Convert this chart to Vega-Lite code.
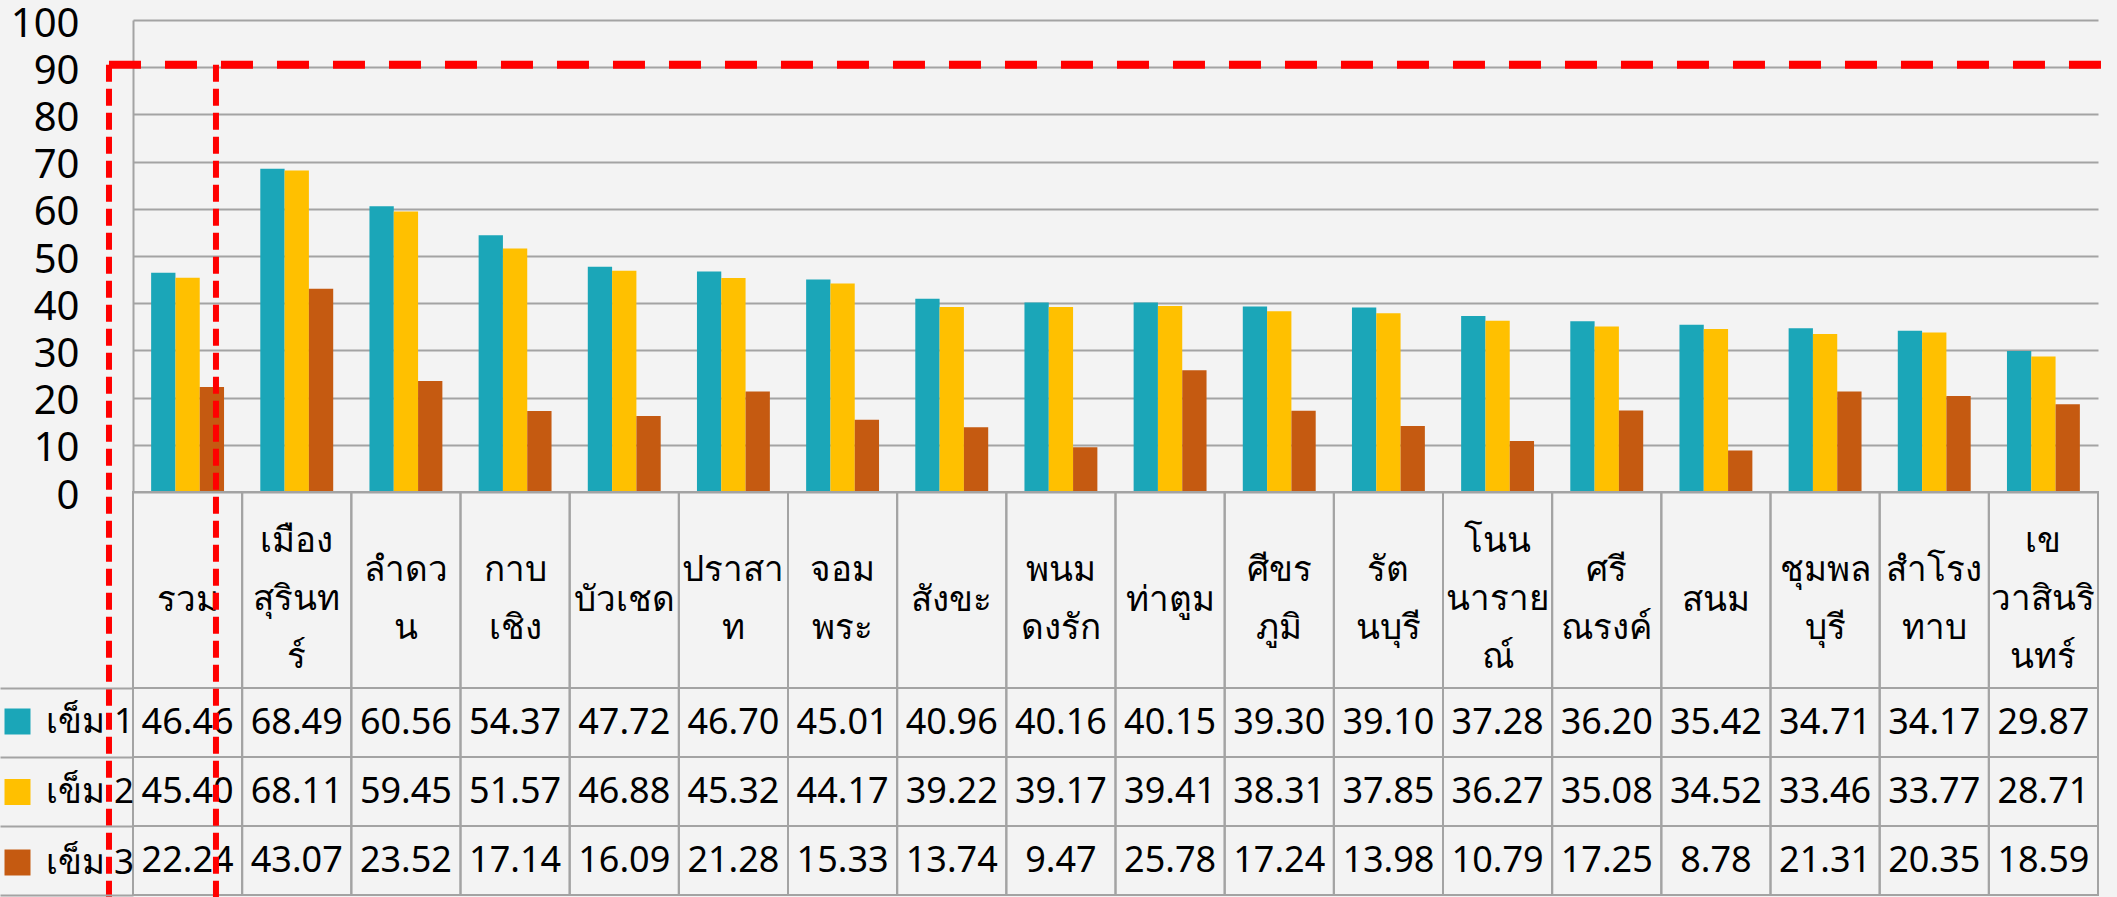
{
  "$schema": "https://vega.github.io/schema/vega-lite/v6.json",
  "autosize": "none",
  "padding": {"left": 133, "top": 0, "right": 19, "bottom": 0},
  "width": 1965,
  "height": 897,
  "background": "#F3F3F3",
  "config": {"view": {"stroke": null}, "font": "Noto Sans", "text": {"font": "Noto Sans"}},
  "datasets": {
    "cats": [
      {"d": "รวม", "label": "รวม"},
      {"d": "เมืองสุรินทร์", "label": "เมือง\nสุรินท\nร์"},
      {"d": "ลำดวน", "label": "ลำดว\nน"},
      {"d": "กาบเชิง", "label": "กาบ\nเชิง"},
      {"d": "บัวเชด", "label": "บัวเชด"},
      {"d": "ปราสาท", "label": "ปราสา\nท"},
      {"d": "จอมพระ", "label": "จอม\nพระ"},
      {"d": "สังขะ", "label": "สังขะ"},
      {"d": "พนมดงรัก", "label": "พนม\nดงรัก"},
      {"d": "ท่าตูม", "label": "ท่าตูม"},
      {"d": "ศีขรภูมิ", "label": "ศีขร\nภูมิ"},
      {"d": "รัตนบุรี", "label": "รัต\nนบุรี"},
      {"d": "โนนนารายณ์", "label": "โนน\nนาราย\nณ์"},
      {"d": "ศรีณรงค์", "label": "ศรี\nณรงค์"},
      {"d": "สนม", "label": "สนม"},
      {"d": "ชุมพลบุรี", "label": "ชุมพล\nบุรี"},
      {"d": "สำโรงทาบ", "label": "สำโรง\nทาบ"},
      {"d": "เขวาสินรินทร์", "label": "เข\nวาสินริ\nนทร์"}
    ],
    "vals": [
      {"d": "รวม", "s": "เข็ม 1", "v": 46.46}, {"d": "รวม", "s": "เข็ม 2", "v": 45.40}, {"d": "รวม", "s": "เข็ม 3", "v": 22.24},
      {"d": "เมืองสุรินทร์", "s": "เข็ม 1", "v": 68.49}, {"d": "เมืองสุรินทร์", "s": "เข็ม 2", "v": 68.11}, {"d": "เมืองสุรินทร์", "s": "เข็ม 3", "v": 43.07},
      {"d": "ลำดวน", "s": "เข็ม 1", "v": 60.56}, {"d": "ลำดวน", "s": "เข็ม 2", "v": 59.45}, {"d": "ลำดวน", "s": "เข็ม 3", "v": 23.52},
      {"d": "กาบเชิง", "s": "เข็ม 1", "v": 54.37}, {"d": "กาบเชิง", "s": "เข็ม 2", "v": 51.57}, {"d": "กาบเชิง", "s": "เข็ม 3", "v": 17.14},
      {"d": "บัวเชด", "s": "เข็ม 1", "v": 47.72}, {"d": "บัวเชด", "s": "เข็ม 2", "v": 46.88}, {"d": "บัวเชด", "s": "เข็ม 3", "v": 16.09},
      {"d": "ปราสาท", "s": "เข็ม 1", "v": 46.70}, {"d": "ปราสาท", "s": "เข็ม 2", "v": 45.32}, {"d": "ปราสาท", "s": "เข็ม 3", "v": 21.28},
      {"d": "จอมพระ", "s": "เข็ม 1", "v": 45.01}, {"d": "จอมพระ", "s": "เข็ม 2", "v": 44.17}, {"d": "จอมพระ", "s": "เข็ม 3", "v": 15.33},
      {"d": "สังขะ", "s": "เข็ม 1", "v": 40.96}, {"d": "สังขะ", "s": "เข็ม 2", "v": 39.22}, {"d": "สังขะ", "s": "เข็ม 3", "v": 13.74},
      {"d": "พนมดงรัก", "s": "เข็ม 1", "v": 40.16}, {"d": "พนมดงรัก", "s": "เข็ม 2", "v": 39.17}, {"d": "พนมดงรัก", "s": "เข็ม 3", "v": 9.47},
      {"d": "ท่าตูม", "s": "เข็ม 1", "v": 40.15}, {"d": "ท่าตูม", "s": "เข็ม 2", "v": 39.41}, {"d": "ท่าตูม", "s": "เข็ม 3", "v": 25.78},
      {"d": "ศีขรภูมิ", "s": "เข็ม 1", "v": 39.30}, {"d": "ศีขรภูมิ", "s": "เข็ม 2", "v": 38.31}, {"d": "ศีขรภูมิ", "s": "เข็ม 3", "v": 17.24},
      {"d": "รัตนบุรี", "s": "เข็ม 1", "v": 39.10}, {"d": "รัตนบุรี", "s": "เข็ม 2", "v": 37.85}, {"d": "รัตนบุรี", "s": "เข็ม 3", "v": 13.98},
      {"d": "โนนนารายณ์", "s": "เข็ม 1", "v": 37.28}, {"d": "โนนนารายณ์", "s": "เข็ม 2", "v": 36.27}, {"d": "โนนนารายณ์", "s": "เข็ม 3", "v": 10.79},
      {"d": "ศรีณรงค์", "s": "เข็ม 1", "v": 36.20}, {"d": "ศรีณรงค์", "s": "เข็ม 2", "v": 35.08}, {"d": "ศรีณรงค์", "s": "เข็ม 3", "v": 17.25},
      {"d": "สนม", "s": "เข็ม 1", "v": 35.42}, {"d": "สนม", "s": "เข็ม 2", "v": 34.52}, {"d": "สนม", "s": "เข็ม 3", "v": 8.78},
      {"d": "ชุมพลบุรี", "s": "เข็ม 1", "v": 34.71}, {"d": "ชุมพลบุรี", "s": "เข็ม 2", "v": 33.46}, {"d": "ชุมพลบุรี", "s": "เข็ม 3", "v": 21.31},
      {"d": "สำโรงทาบ", "s": "เข็ม 1", "v": 34.17}, {"d": "สำโรงทาบ", "s": "เข็ม 2", "v": 33.77}, {"d": "สำโรงทาบ", "s": "เข็ม 3", "v": 20.35},
      {"d": "เขวาสินรินทร์", "s": "เข็ม 1", "v": 29.87}, {"d": "เขวาสินรินทร์", "s": "เข็ม 2", "v": 28.71}, {"d": "เขวาสินรินทร์", "s": "เข็ม 3", "v": 18.59}
    ]
  },
  "resolve": {"scale": {"x": "independent", "y": "independent"}, "axis": {"x": "independent", "y": "independent"}},
  "layer": [
    {
      "layer": [
        {
          "data": {"name": "vals"},
          "mark": {"type": "bar"},
          "encoding": {
            "x": {"field": "d", "type": "nominal", "axis": null,
                  "scale": {"domain": ["รวม","เมืองสุรินทร์","ลำดวน","กาบเชิง","บัวเชด","ปราสาท","จอมพระ","สังขะ","พนมดงรัก","ท่าตูม","ศีขรภูมิ","รัตนบุรี","โนนนารายณ์","ศรีณรงค์","สนม","ชุมพลบุรี","สำโรงทาบ","เขวาสินรินทร์"], "paddingInner": 0, "paddingOuter": 0}},
            "xOffset": {"field": "s", "type": "nominal", "scale": {"domain": ["เข็ม 1", "เข็ม 2", "เข็ม 3"], "paddingInner": 0, "paddingOuter": 0.746}},
            "y": {"field": "v", "type": "quantitative",
                  "scale": {"domain": [0, 100], "range": [492, 20], "nice": false, "zero": false},
                  "axis": {"orient": "left", "values": [0, 10, 20, 30, 40, 50, 60, 70, 80, 90, 100], "grid": true, "gridColor": "#A3A3A3", "gridWidth": 2,
                           "domain": true, "domainColor": "#A3A3A3", "domainWidth": 2, "ticks": false, "labelPadding": 54, "labelOffset": 4,
                           "labelFontSize": 40, "labelFont": "Noto Sans", "labelColor": "#000000", "labelFlush": false, "labelBaseline": "middle", "title": null}},
            "color": {"field": "s", "type": "nominal",
                      "scale": {"domain": ["เข็ม 1", "เข็ม 2", "เข็ม 3"], "range": ["#1BA6B8", "#FFC000", "#C55A11"]},
                      "legend": {"orient": "none", "legendX": -133, "legendY": 704, "direction": "vertical", "title": null,
                                 "symbolType": "square", "symbolSize": 676, "symbolStrokeWidth": 0, "labelFontSize": 35,
                                 "labelFont": "Noto Sans", "labelColor": "#000000", "labelOffset": 11, "rowPadding": 34.5,
                                 "padding": 0, "labelLimit": 0}}
          }
        },
        {
          "data": {"name": "cats"},
          "mark": {"type": "rect", "fill": "transparent", "stroke": "#A3A3A3", "strokeWidth": 2},
          "encoding": {
            "x": {"field": "d", "type": "nominal"},
            "y": {"datum": 0, "type": "quantitative"},
            "y2": {"datum": -41.53}
          }
        },
        {
          "data": {"name": "cats"},
          "transform": [{"filter": "indexof(datum.label, '\\n') < 0"}],
          "mark": {"type": "text", "fontSize": 35, "font": "Noto Sans", "color": "#000000", "baseline": "middle", "align": "center", "lineBreak": "\n", "lineHeight": 58},
          "encoding": {
            "x": {"field": "d", "type": "nominal"},
            "y": {"datum": -22.88, "type": "quantitative"},
            "text": {"field": "label", "type": "nominal"}
          }
        },
        {
          "data": {"name": "cats"},
          "transform": [{"filter": "length(split(datum.label, '\\n')) == 2"}],
          "mark": {"type": "text", "fontSize": 35, "font": "Noto Sans", "color": "#000000", "baseline": "middle", "align": "center", "lineBreak": "\n", "lineHeight": 58},
          "encoding": {
            "x": {"field": "d", "type": "nominal"},
            "y": {"datum": -16.53, "type": "quantitative"},
            "text": {"field": "label", "type": "nominal"}
          }
        },
        {
          "data": {"name": "cats"},
          "transform": [{"filter": "length(split(datum.label, '\\n')) == 3"}],
          "mark": {"type": "text", "fontSize": 35, "font": "Noto Sans", "color": "#000000", "baseline": "middle", "align": "center", "lineBreak": "\n", "lineHeight": 58},
          "encoding": {
            "x": {"field": "d", "type": "nominal"},
            "y": {"datum": -10.38, "type": "quantitative"},
            "text": {"field": "label", "type": "nominal"}
          }
        }
      ]
    },
    {
      "layer": [
        {
          "data": {"name": "vals"},
          "mark": {"type": "rect", "fill": "transparent", "stroke": "#A3A3A3", "strokeWidth": 2},
          "encoding": {
            "x": {"field": "d", "type": "nominal", "axis": null,
                  "scale": {"domain": ["รวม","เมืองสุรินทร์","ลำดวน","กาบเชิง","บัวเชด","ปราสาท","จอมพระ","สังขะ","พนมดงรัก","ท่าตูม","ศีขรภูมิ","รัตนบุรี","โนนนารายณ์","ศรีณรงค์","สนม","ชุมพลบุรี","สำโรงทาบ","เขวาสินรินทร์"], "paddingInner": 0, "paddingOuter": 0}},
            "y": {"field": "s", "type": "nominal",
                  "scale": {"type": "band", "domain": ["เข็ม 1", "เข็ม 2", "เข็ม 3"], "range": [688, 895], "paddingInner": 0, "paddingOuter": 0},
                  "axis": {"orient": "left", "labels": false, "domain": false, "grid": false, "ticks": true, "tickBand": "extent",
                           "tickSize": 133, "tickColor": "#A3A3A3", "tickWidth": 2, "title": null}}
          }
        },
        {
          "data": {"name": "vals"},
          "mark": {"type": "text", "fontSize": 36, "font": "Noto Sans", "color": "#000000", "baseline": "middle", "align": "center"},
          "encoding": {
            "x": {"field": "d", "type": "nominal"},
            "y": {"field": "s", "type": "nominal"},
            "text": {"field": "v", "type": "quantitative", "format": ".2f"}
          }
        }
      ]
    },
    {
      "data": {"values": [{}]},
      "layer": [
        {
          "mark": {"type": "rule", "color": "#FF0000", "strokeWidth": 8, "strokeDash": [32, 24]},
          "encoding": {
            "x": {"datum": -0.22, "type": "quantitative", "scale": {"domain": [0, 18], "nice": false, "zero": false}, "axis": null},
            "x2": {"datum": 18.2},
            "y": {"datum": 90.5, "type": "quantitative", "scale": {"domain": [0, 100], "range": [492, 20], "nice": false, "zero": false}, "axis": null}
          }
        },
        {
          "mark": {"type": "rule", "color": "#FF0000", "strokeWidth": 6, "strokeDash": [17, 7]},
          "encoding": {
            "x": {"datum": -0.22, "type": "quantitative"},
            "y": {"datum": 90.5, "type": "quantitative"},
            "y2": {"datum": -87}
          }
        },
        {
          "mark": {"type": "rule", "color": "#FF0000", "strokeWidth": 6, "strokeDash": [17, 7]},
          "encoding": {
            "x": {"datum": 0.76, "type": "quantitative"},
            "y": {"datum": 90.5, "type": "quantitative"},
            "y2": {"datum": -87}
          }
        }
      ]
    }
  ]
}
